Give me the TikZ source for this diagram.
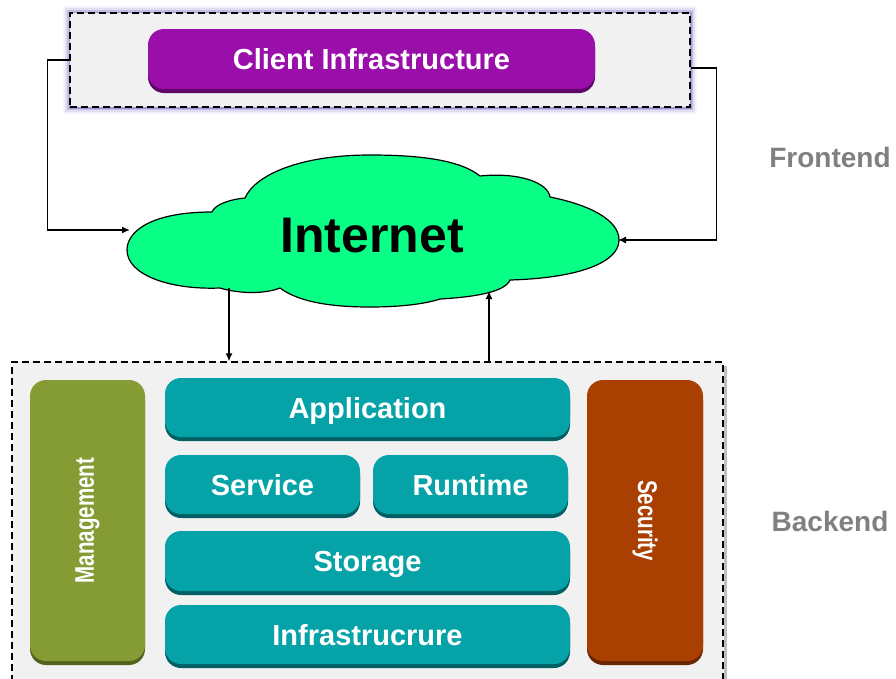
\documentclass[tikz,border=0pt]{standalone}
\usepackage{fontspec}
\setmainfont{Liberation Sans}
\usepackage{tikz}
\usetikzlibrary{arrows.meta,positioning,calc,shadows}
\definecolor{framegray}{RGB}{241,241,241}
\definecolor{glowblue}{RGB}{110,95,190}
\definecolor{clientpurple}{RGB}{154,14,170}
\definecolor{clientdark}{RGB}{92,6,104}
\definecolor{layerteal}{RGB}{5,162,168}
\definecolor{layerdark}{RGB}{2,96,100}
\definecolor{mgmtgreen}{RGB}{133,155,52}
\definecolor{mgmtdark}{RGB}{84,99,30}
\definecolor{secbrown}{RGB}{170,63,2}
\definecolor{secdark}{RGB}{105,38,0}
\definecolor{cloudgreen}{RGB}{10,255,135}
\definecolor{sidegray}{RGB}{128,128,128}
\tikzset{
  framebox/.style={draw=black,fill=framegray,dash pattern=on 7pt off 4pt,line width=1.2pt,
    inner sep=0pt},
  layerbox/.style={fill=#1,rounded corners=16pt,inner sep=0pt,text=white,align=center,
    font=\fontsize{29}{34}\selectfont\bfseries},
  tealbox/.style={layerbox=layerteal,drop shadow={shadow xshift=0pt,shadow yshift=-4pt,
    fill=layerdark,opacity=1}},
  flowarrow/.style={-{Latex[length=8pt,width=7pt]},line width=1.5pt},
  sidelabel/.style={text=sidegray,font=\fontsize{28}{32}\selectfont\bfseries}
}
\newcommand{\sidetext}[2]{\rotatebox{#1}{\fontsize{27}{30}\selectfont\scalebox{0.76}[1]{#2}}}

\begin{document}
\begin{tikzpicture}[x=1pt,y=-1pt]
  \useasboundingbox (0,0) rectangle (896,678);
  % frontend
  \foreach \w/\o in {14/0.08,10/0.14,6/0.25,3/0.4}
    \draw[glowblue,line width=\w pt,opacity=\o] (70,13) rectangle (690,107);
  \node[framebox,minimum width=620pt,minimum height=94pt] (frontbox) at (380,60) {};
  \node[layerbox=clientpurple,drop shadow={shadow xshift=0pt,shadow yshift=-4pt,
    fill=clientdark,opacity=1},minimum width=447pt,minimum height=60pt] (client) at (371.5,59) {Client Infrastructure};

  % internet cloud
  \draw[fill=cloudgreen,line width=1.2pt] (212,212)
    .. controls (150,212) and (127,232) .. (127,250)
    .. controls (127,275) and (170,290) .. (220,288)
    .. controls (240,294) and (265,294) .. (280,288)
    .. controls (300,303) and (335,307) .. (370,307)
    .. controls (400,307) and (425,304) .. (440,299)
    .. controls (475,297) and (505,292) .. (510,280)
    .. controls (580,278) and (619,262) .. (619,240)
    .. controls (619,220) and (590,205) .. (550,197)
    .. controls (548,183) and (520,172) .. (480,176)
    .. controls (460,160) and (420,155) .. (370,155)
    .. controls (300,155) and (255,175) .. (245,198)
    .. controls (232,199) and (215,204) .. (212,212) -- cycle;
  \node[font=\fontsize{50}{56}\selectfont\bfseries] (internet) at (372,236) {Internet};
  \coordinate (cloud-w) at (130,230);
  \coordinate (cloud-e) at (618,240);
  \coordinate (cloud-sw) at (229,288);
  \coordinate (cloud-se) at (489,291);

  % backend
  \draw[black!25,line width=3pt] (725,366) -- (725,680);
  \node[framebox,minimum width=711pt,minimum height=322pt] (backbox) at (367.5,523) {};
  \node[layerbox=mgmtgreen,drop shadow={shadow xshift=0pt,shadow yshift=-4pt,fill=mgmtdark,opacity=1},
    minimum width=115pt,minimum height=281pt] (mgmt) at (87.5,520.5) {\sidetext{90}{Management}};
  \node[tealbox,minimum width=405pt,minimum height=59pt,text depth=0pt] (app) at (367.5,407.5) {Application};
  \node[tealbox,minimum width=195pt,minimum height=59pt,text depth=0pt] (service) at (262.5,484.5) {Service};
  \node[tealbox,minimum width=195pt,minimum height=59pt,text depth=0pt] (runtime) at (470.5,484.5) {Runtime};
  \node[tealbox,minimum width=405pt,minimum height=60pt,text depth=0pt] (storage) at (367.5,561) {Storage};
  \node[tealbox,minimum width=405pt,minimum height=59pt,text depth=0pt] (infra) at (367.5,634.5) {Infrastrucrure};
  \node[layerbox=secbrown,drop shadow={shadow xshift=0pt,shadow yshift=-4pt,fill=secdark,opacity=1},
    minimum width=116pt,minimum height=281pt] (security) at (645,520.5) {\sidetext{-90}{Security}};

  % connectors
  \draw[flowarrow] (frontbox.west) -- ++(-22,0) |- (cloud-w);
  \draw[flowarrow] ($(frontbox.east)+(0,8)$) -- ++(26,0) |- (cloud-e);
  \draw[flowarrow] (cloud-sw) -- (cloud-sw |- backbox.north);
  \draw[flowarrow] (cloud-se |- backbox.north) -- (cloud-se);

  \node[sidelabel] (frontend) at (830,157) {Frontend};
  \node[sidelabel] (backend) at (830,521) {Backend};
\end{tikzpicture}
\end{document}
